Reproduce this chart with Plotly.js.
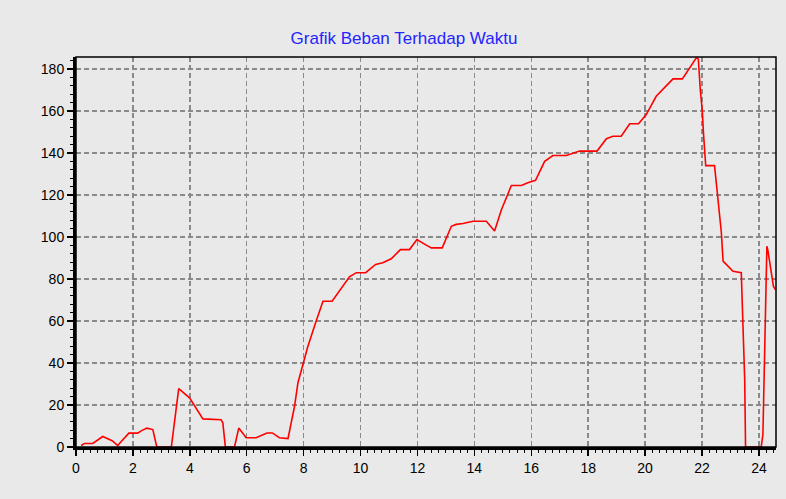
<!DOCTYPE html>
<html>
<head>
<meta charset="utf-8">
<script src="https://cdn.plot.ly/plotly-3.0.1.min.js"></script>
<style>
html,body{margin:0;padding:0;background:#e9e9e9;}
#chart{width:786px;height:499px;}
</style>
</head>
<body>
<div id="chart"></div>
<script>
const chartTitle = "Grafik Beban Terhadap Waktu";
const hours = [0.18,0.3,0.59,0.94,1.27,1.47,1.59,1.86,2.17,2.29,2.49,2.7,2.84,3.35,3.5,3.61,3.99,4.1,4.46,5.1,5.16,5.25,5.57,5.72,5.98,6.33,6.71,6.9,7.15,7.45,7.5,7.68,7.8,7.97,8.15,8.44,8.68,9.0,9.26,9.61,9.85,10.18,10.53,10.78,11.08,11.4,11.72,11.98,12.31,12.49,12.87,13.19,13.36,13.6,13.95,14.42,14.71,14.95,15.3,15.65,15.88,16.15,16.47,16.76,17.23,17.46,17.7,18.31,18.64,18.87,19.16,19.46,19.77,20.04,20.39,20.98,21.31,21.8,21.87,21.94,22.01,22.05,22.13,22.44,22.54,22.62,22.68,22.74,23.09,23.38,23.42,23.5,23.53,24.08,24.14,24.2,24.24,24.28,24.32,24.38,24.43,24.51,24.58];
const loads = [0.7,1.7,1.7,5,3,0.7,2.6,6.6,6.6,7.7,9,8.3,0,0,16,27.8,23.4,21,13.4,13,11.5,0,0,9,4.4,4.4,6.7,6.7,4.4,4,7.7,19.4,30.6,38.5,48,60,69.4,69.4,74.2,81,83,83,86.9,87.7,89.6,94,94,98.8,96.1,94.8,94.8,105.1,106,106.4,107.5,107.5,102.8,113,124.5,124.5,125.8,127,136,138.8,138.8,139.8,140.9,140.9,146.8,148,148,153.9,153.9,158.3,167,175.3,175.3,185.3,184.8,170,160,149.6,134,134,120.2,111.5,102,88.5,83.7,83,65.8,32,0,0,6,41.7,77.4,95.6,93.2,88.5,83.7,76.5,75];
const xTickVals = [0,2,4,6,8,10,12,14,16,18,20,22,24];
const yTickVals = [0,20,40,60,80,100,120,140,160,180];

const trace = {
  x: hours, y: loads, type: 'scatter', mode: 'lines',
  line: {color: '#ff0000', width: 1.6},
  hoverinfo: 'x+y'
};

const layout = {
  width: 786, height: 499,
  paper_bgcolor: '#e9e9e9', plot_bgcolor: '#e9e9e9',
  margin: {l: 76, r: 10, t: 57, b: 52},
  showlegend: false,
  title: {text: chartTitle, x: 0.514, xanchor: 'center', y: 0.923, yanchor: 'middle',
          font: {family: 'Liberation Sans, Arial, sans-serif', size: 17, color: '#2424ff'}},
  xaxis: {
    range: [0, 24.6], tickvals: xTickVals, ticktext: xTickVals.map(String),
    showline: true, linecolor: '#000', linewidth: 3,
    ticks: 'outside', ticklen: 6, tickwidth: 1.5, tickcolor: '#000',
    showgrid: true, gridcolor: '#8a8a8a', gridwidth: 1.5, griddash: '5px,3px',
    zeroline: false,
    tickfont: {family: 'Liberation Sans, Arial, sans-serif', size: 14, color: '#000'},
    minor: {dtick: 0.25, ticks: 'outside', ticklen: 3, tickwidth: 1, tickcolor: '#000', showgrid: false}
  },
  yaxis: {
    range: [0, 185.7], tickvals: yTickVals, ticktext: yTickVals.map(String),
    showline: true, linecolor: '#000', linewidth: 3,
    ticks: 'outside', ticklen: 6, tickwidth: 1.5, tickcolor: '#000',
    showgrid: true, gridcolor: '#8a8a8a', gridwidth: 1.5, griddash: '5px,3px',
    zeroline: false,
    tickfont: {family: 'Liberation Sans, Arial, sans-serif', size: 14, color: '#000'},
    minor: {dtick: 4, ticks: 'outside', ticklen: 3, tickwidth: 1, tickcolor: '#000', showgrid: false}
  },
  shapes: [{type: 'rect', xref: 'paper', yref: 'paper', x0: 0, x1: 1, y0: 0, y1: 1,
            line: {color: '#000', width: 1.5}, layer: 'above'}]
};

Plotly.newPlot('chart', [trace], layout, {displayModeBar: false, staticPlot: true});
</script>
</body>
</html>
